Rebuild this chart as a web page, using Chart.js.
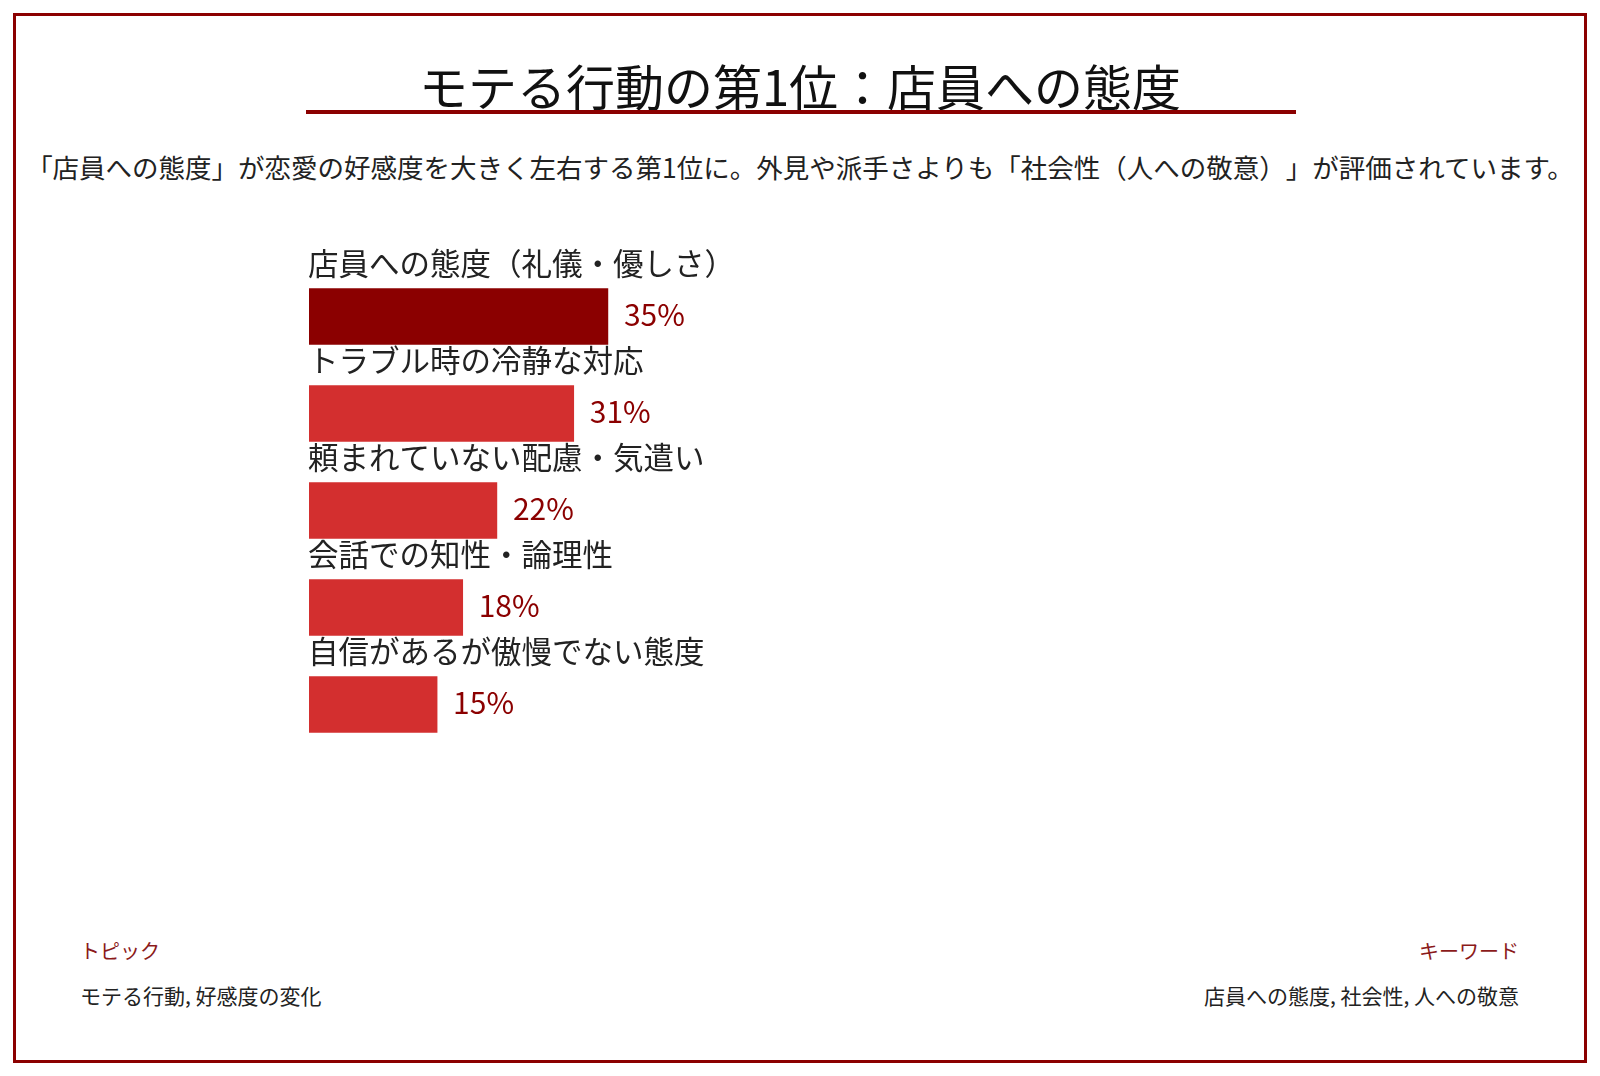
<!DOCTYPE html>
<html lang="ja">
<head>
<meta charset="utf-8">
<title>モテる行動の第1位：店員への態度</title>
<script src="https://cdn.jsdelivr.net/npm/chart.js@4.4.1/dist/chart.umd.min.js"></script>
<style>
  html, body {
    margin: 0;
    padding: 0;
    width: 1600px;
    height: 1076px;
    background: #fff;
    font-family: "Noto Sans CJK JP", "Noto Sans", sans-serif;
    color: #222;
    overflow: hidden;
    text-spacing-trim: space-all;
  }
  .frame {
    position: absolute;
    left: 13px;
    top: 13px;
    width: 1574px;
    height: 1050px;
    box-sizing: border-box;
    border: 3px solid #8b0000;
  }
  .title {
    position: absolute;
    left: 0;
    top: 60px;
    width: 1600px;
    text-align: center;
    font-size: 49px;
    line-height: 49px;
    color: #111;
  }
  .title-rule {
    position: absolute;
    left: 306px;
    top: 110px;
    width: 990px;
    height: 4px;
    background: #8b0000;
  }
  .subtitle {
    position: absolute;
    left: 0;
    top: 154px;
    width: 1600px;
    text-align: center;
    font-size: 26.5px;
    line-height: 26px;
    color: #222;
    white-space: nowrap;
  }
  .chart-box {
    position: absolute;
    left: 0;
    top: 198px;
    width: 1600px;
    height: 600px;
  }
  .foot {
    position: absolute;
    top: 940px;
  }
  .foot .head {
    font-size: 20px;
    line-height: 22px;
    color: #8b1a1a;
  }
  .foot .body {
    font-size: 21px;
    line-height: 22px;
    margin-top: 22px;
    color: #222;
  }
  .foot.left { left: 80px; text-align: left; }
  .foot.right { right: 81px; text-align: right; }
</style>
</head>
<body>
<div class="frame"></div>
<div class="title">モテる行動の第1位：店員への態度</div>
<div class="title-rule"></div>
<div class="subtitle">「店員への態度」が恋愛の好感度を大きく左右する第1位に。外見や派手さよりも「社会性（人への敬意）」が評価されています。</div>

<div class="chart-box"><canvas id="rankChart"></canvas></div>

<div class="foot left">
  <div class="head">トピック</div>
  <div class="body">モテる行動, 好感度の変化</div>
</div>
<div class="foot right">
  <div class="head">キーワード</div>
  <div class="body">店員への態度, 社会性, 人への敬意</div>
</div>

<script>
// Data
const categories = [
  '店員への態度（礼儀・優しさ）',
  'トラブル時の冷静な対応',
  '頼まれていない配慮・気遣い',
  '会話での知性・論理性',
  '自信があるが傲慢でない態度'
];
const values = [35, 31, 22, 18, 15];
const valueSuffix = '%';

const FONT = '"Noto Sans CJK JP", "Noto Sans", sans-serif';

// canvas squeezes "度（" together, so lay the label out one glyph at a time
function fillSpaced(ctx, text, x, y) {
  for (const ch of text) {
    ctx.fillText(ch, x, y);
    x += ctx.measureText(ch).width;
  }
}

// Draws the category name above each bar and the value after it
const barTextPlugin = {
  id: 'barText',
  afterDatasetsDraw(chart) {
    const ctx = chart.ctx;
    const meta = chart.getDatasetMeta(0);
    const left = chart.chartArea.left;
    ctx.save();
    meta.data.forEach((bar, i) => {
      const top = bar.y - bar.height / 2;

      ctx.font = '30.5px ' + FONT;
      ctx.fillStyle = '#222';
      ctx.textAlign = 'left';
      ctx.textBaseline = 'middle';
      fillSpaced(ctx, chart.data.labels[i], left - 1, top - 25);

      ctx.font = '30px ' + FONT;
      ctx.fillStyle = '#8b0000';
      ctx.fillText(chart.data.datasets[0].data[i] + valueSuffix, bar.x + 16, bar.y - 2);
    });
    ctx.restore();
  }
};

function initChart() {
  new Chart(document.getElementById('rankChart'), {
    type: 'bar',
    data: {
      labels: categories,
      datasets: [{
        data: values,
        backgroundColor: (c) => c.dataIndex === 0 ? '#8b0000' : '#d32f2f',
        borderWidth: 0,
        barThickness: 56
      }]
    },
    options: {
      indexAxis: 'y',
      responsive: true,
      maintainAspectRatio: false,
      animation: false,
      layout: {
        padding: { left: 309, right: 437, top: 70, bottom: 45 }
      },
      scales: {
        x: { display: false, min: 0, max: 100 },
        y: { display: false }
      },
      plugins: {
        legend: { display: false },
        tooltip: { enabled: false }
      }
    },
    plugins: [barTextPlugin]
  });
}

document.addEventListener('DOMContentLoaded', initChart);
</script>
</body>
</html>
